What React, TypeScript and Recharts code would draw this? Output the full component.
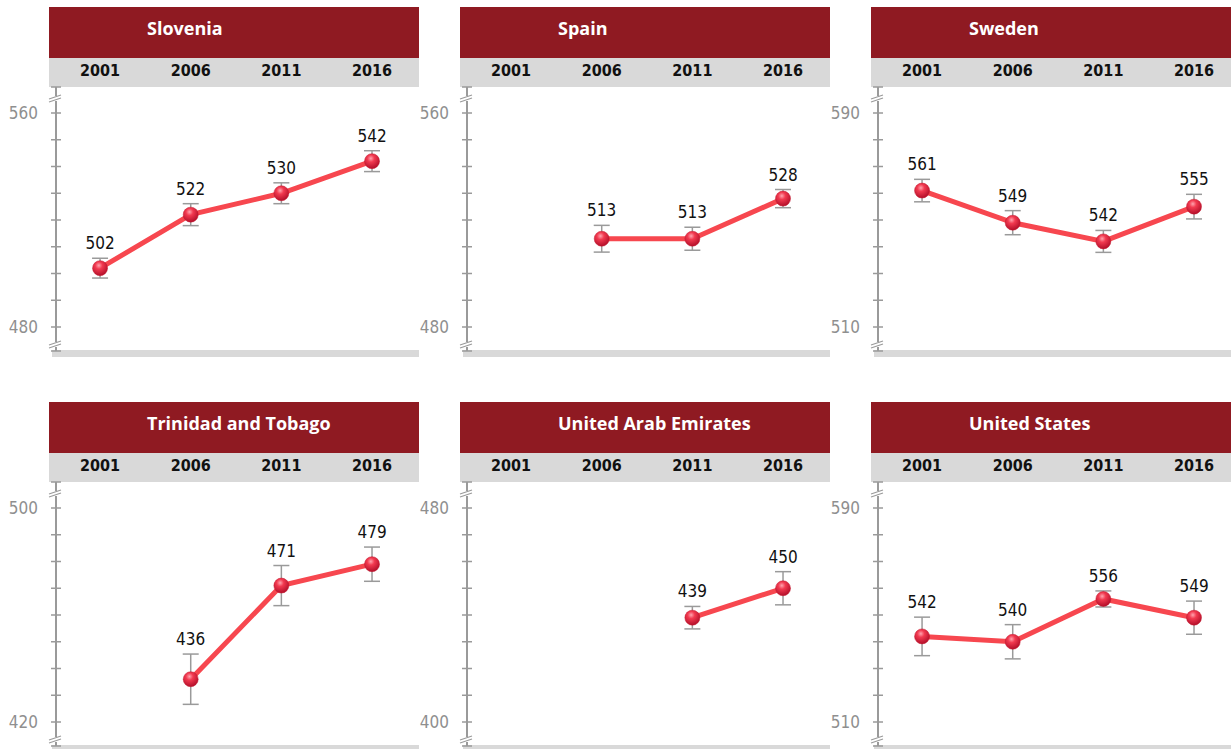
import React from 'react';
import { LineChart, Line, XAxis, YAxis, ErrorBar, LabelList } from 'recharts';

const years = [2001, 2006, 2011, 2016];
const countries = ['Slovenia', 'Spain', 'Sweden', 'Trinidad and Tobago', 'United Arab Emirates', 'United States'];
const scores: (number | null)[][] = [
  [502, 522, 530, 542],
  [null, 513, 513, 528],
  [561, 549, 542, 555],
  [null, 436, 471, 479],
  [null, null, 439, 450],
  [542, 540, 556, 549],
];
// half length of the error bar, in score points
const errors: (number | null)[][] = [
  [3.7, 4.1, 3.9, 3.9],
  [null, 5.0, 4.3, 3.4],
  [4.2, 4.5, 4.1, 4.6],
  [null, 9.4, 7.5, 6.4],
  [null, null, 4.2, 6.2],
  [7.2, 6.4, 3.0, 6.2],
];
const scaleMin = [480, 480, 510, 420, 400, 510];
const scaleMax = [560, 560, 590, 500, 480, 590];

const RED = '#8F1A22';
const BAND = '#D9D9D9';
const AXIS = '#9A9A9A';
const LINE = '#F7474F';
const NARROW = "'Liberation Sans Narrow', 'DejaVu Sans Condensed', sans-serif";

const YTick = (props: any) => {
  const { x, y, payload, lo, hi, min, max } = props;
  const v = payload.value;
  const breakMark = (by: number) => (
    <g>
      <line x1={x} y1={by - 1} x2={x} y2={by + 4} stroke="#fff" strokeWidth={3} />
      <line x1={x - 7} y1={by + 2} x2={x + 5} y2={by - 2} stroke={AXIS} strokeWidth={1.2} />
      <line x1={x - 7} y1={by + 5} x2={x + 5} y2={by + 1} stroke={AXIS} strokeWidth={1.2} />
    </g>
  );
  return (
    <g>
      <line x1={x - 5} y1={y} x2={x + 5} y2={y} stroke={AXIS} strokeWidth={1.5} />
      {v === hi && breakMark(y + 10)}
      {v === lo && breakMark(y - 8)}
      {(v === min || v === max) && (
        <text x={x - 18} y={y + 6} textAnchor="end" fill="#8F8F8F" fontSize={17} fontFamily={NARROW}>
          {v}
        </text>
      )}
    </g>
  );
};

const XTick = (props: any) => {
  const { x, y, payload } = props;
  return (
    <text x={x} y={y - 11} textAnchor="middle" fill="#111" fontSize={16} fontWeight="bold" fontFamily={NARROW}>
      {payload.value}
    </text>
  );
};

const Ball = (props: any) => {
  const { cx, cy, index } = props;
  if (cx == null || cy == null || props.value == null) return <g key={`d-${index}`} />;
  return <circle key={`d-${index}`} cx={cx} cy={cy} r={7.5} fill="url(#ball)" stroke="#C4182E" strokeWidth={0.5} />;
};

const Panel = ({ i }: { i: number }) => {
  const min = scaleMin[i];
  const max = scaleMax[i];
  const lo = min - 8.97;
  const hi = max + 9.72;
  const ticks = [lo];
  for (let t = min; t <= max; t += 10) ticks.push(t);
  ticks.push(hi);
  const rows = years.map((yr, j) => {
    const v = scores[i][j];
    const e = errors[i][j];
    return { year: yr, v, e, top: v == null || e == null ? null : v + e };
  });
  const col = i % 3;
  const row = Math.floor(i / 3);
  return (
    <div style={{ position: 'absolute', left: col * 411, top: row * 395, width: 420, height: 360 }}>
      <div style={{ position: 'absolute', left: 49, top: 7, width: 370, height: 51, background: RED }}>
        <div
          style={{
            position: 'absolute',
            left: 98,
            top: 9,
            color: '#fff',
            fontFamily: "'Open Sans', sans-serif",
            fontWeight: 700,
            fontSize: 18,
            whiteSpace: 'nowrap',
          }}
        >
          {countries[i]}
        </div>
      </div>
      <div style={{ position: 'absolute', left: 49, top: 58, width: 370, height: 29, background: BAND }} />
      <div style={{ position: 'absolute', left: 52, top: 87, width: 367, height: 270, background: BAND }} />
      <div style={{ position: 'absolute', left: 0, top: 87, width: 411, height: 263, background: '#fff' }} />
      <div style={{ position: 'absolute', left: 0, top: 0 }}>
        <LineChart width={420} height={360} data={rows} margin={{ top: 58, right: 9, bottom: 9, left: 0 }}>
          <XAxis
            dataKey="year"
            type="number"
            orientation="top"
            domain={[1998.57, 2018.15]}
            ticks={years}
            interval={0}
            height={29}
            axisLine={false}
            tickLine={false}
            tickSize={0}
            tickMargin={0}
            tick={<XTick />}
          />
          <YAxis
            type="number"
            domain={[lo, hi]}
            allowDataOverflow
            ticks={ticks}
            interval={0}
            width={56}
            axisLine={{ stroke: AXIS, strokeWidth: 2 }}
            tickLine={false}
            tickSize={0}
            tickMargin={0}
            tick={<YTick lo={lo} hi={hi} min={min} max={max} />}
          />
          <Line
            dataKey="top"
            stroke="none"
            dot={false}
            activeDot={false}
            isAnimationActive={false}
          >
            <LabelList
              dataKey="top"
              content={(p: any) => {
                const idx = p.index;
                const val = scores[i][idx];
                if (val == null || p.y == null) return null;
                return (
                  <text x={p.x} y={p.y - 9} textAnchor="middle" fill="#111" fontSize={17} fontFamily={NARROW}>
                    {val}
                  </text>
                );
              }}
            />
          </Line>
          <Line
            dataKey="v"
            stroke={LINE}
            strokeWidth={5}
            dot={<Ball />}
            activeDot={false}
            connectNulls={false}
            isAnimationActive={false}
          >
            <ErrorBar dataKey="e" direction="y" width={8} stroke="#9A9A9A" strokeWidth={1.5} />
          </Line>
        </LineChart>
      </div>
    </div>
  );
};

export default function App() {
  return (
    <div
      style={{
        position: 'absolute',
        left: 0,
        top: 0,
        width: 1231,
        height: 749,
        overflow: 'hidden',
        background: '#fff',
      }}
    >
      <svg width={0} height={0} style={{ position: 'absolute' }}>
        <defs>
          <radialGradient id="ball" cx="42%" cy="32%" r="68%">
            <stop offset="0%" stopColor="#FFA3AE" />
            <stop offset="35%" stopColor="#F23A50" />
            <stop offset="100%" stopColor="#B30F2A" />
          </radialGradient>
        </defs>
      </svg>
      {countries.map((_, i) => (
        <Panel key={i} i={i} />
      ))}
    </div>
  );
}
